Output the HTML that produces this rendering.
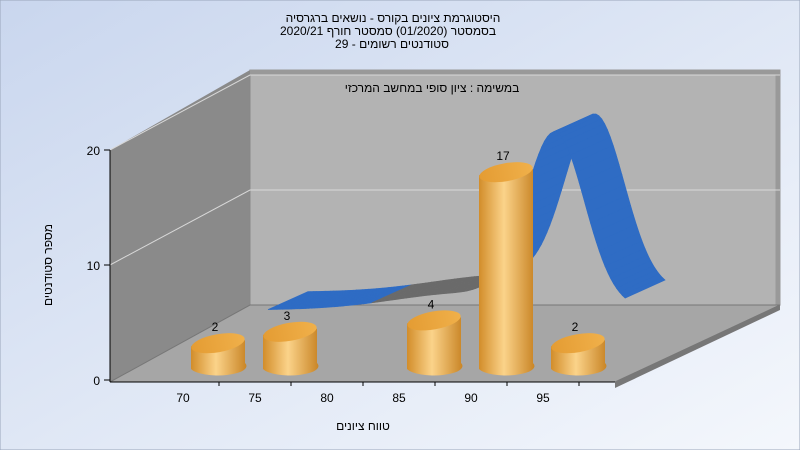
<!DOCTYPE html>
<html><head><meta charset="utf-8"><style>
body{margin:0;width:800px;height:450px;overflow:hidden;font-family:"Liberation Sans",sans-serif}
svg{display:block}
text{font-family:"Liberation Sans","Noto Sans CJK JP",sans-serif}
</style></head><body>
<svg id="chart" width="800" height="450" viewBox="0 0 800 450">
<defs>
<linearGradient id="bg" x1="0" y1="0" x2="1" y2="1"><stop offset="0" stop-color="#c9d6ee"/><stop offset="0.5" stop-color="#dfe7f5"/><stop offset="1" stop-color="#f4f7fc"/></linearGradient>
<linearGradient id="cyl" x1="0" y1="0" x2="1" y2="0"><stop offset="0" stop-color="#d28d2a"/><stop offset="0.45" stop-color="#fbd38a"/><stop offset="1" stop-color="#c98526"/></linearGradient>
<linearGradient id="cyltop" x1="0" y1="0" x2="1" y2="0"><stop offset="0" stop-color="#e49c33"/><stop offset="1" stop-color="#f0b04a"/></linearGradient>
</defs>
<rect width="800" height="450" fill="url(#bg)" stroke="#9aa6bb"/>
<g font-size="12" fill="#000" text-anchor="middle">
<text x="393" y="22">היסטוגרמת ציונים בקורס - נושאים ברגרסיה</text>
<text x="388" y="35">בסמסטר  (01/2020)  סמסטר חורף 2020/21</text>
<text x="392" y="48">סטודנטים רשומים - 29</text>
</g>
<polygon points="110,150 250,70 250,305 110,382" fill="#8a8a8a"/>
<polygon points="250,70 780,70 780,305 250,305" fill="#b3b3b3" stroke="#888" stroke-width="1"/>
<polyline points="250,72 778,72 778,305" fill="none" stroke="#999" stroke-width="5"/>
<polygon points="110,382 250,305 780,305 615,382" fill="#a6a6a6" stroke="#777"/>
<polygon points="615,382 780,305 780,310 615,388" fill="#777"/>
<g id="grid"></g>
<g id="axes"></g>
<g id="curve"></g>
<g id="bars"></g>
<text x="432" y="92" font-size="12" text-anchor="middle">במשימה : ציון סופי במחשב המרכזי</text>
<text x="363" y="430" font-size="12" text-anchor="middle">טווח ציונים</text>
<text x="0" y="0" font-size="12" text-anchor="middle" transform="translate(52,265) rotate(-90)">מספר סטודנטים</text>
</svg>
<script>
const binStarts=[70,75,80,85,90,95];
const counts=[2,3,0,4,17,2];
const yTicks=[0,10,20];
const xTickLabels=["70","75","80","85","90","95"];
const NS="http://www.w3.org/2000/svg";
function mk(t,a,p){const e=document.createElementNS(NS,t);for(const k in a)e.setAttribute(k,a[k]);p.appendChild(e);return e;}
const yAxis=v=>380-v*11.5;
const yBack=v=>305-v*11.5;
const xLabel=g=>183+(g-70)*14.4;
const xBar=g=>218+(g-70)*14.4;
const bars=document.getElementById('bars'),grid=document.getElementById('grid'),axes=document.getElementById('axes'),curve=document.getElementById('curve');
yTicks.forEach(v=>{
 if(v>0){
 const l=mk('polyline',{points:`110,${yAxis(v)} 250,${yBack(v)} 780,${yBack(v)}`,fill:'none',stroke:'#d8d8d8','stroke-width':1},grid);
 
 }
 const t=mk('text',{x:100,y:yAxis(v)+5,'font-size':12,'text-anchor':'end'},axes);t.textContent=v;
 
 
 mk('line',{x1:104,x2:110,y1:yAxis(v),y2:yAxis(v),stroke:'#000'},axes);
});
mk('line',{x1:110,y1:150,x2:110,y2:382,stroke:'#000'},axes);
mk('line',{x1:110,y1:382,x2:615,y2:382,stroke:'#000'},axes);
xTickLabels.forEach((s,i)=>{
 const x=xLabel(+s);
 const t=mk('text',{x:x,y:402,'font-size':12,'text-anchor':'middle'},axes);t.textContent=s;
 
 
 mk('line',{x1:x+36,x2:x+36,y1:382,y2:386,stroke:'#000'},axes);
});
let n=0,s=0;counts.forEach((c,i)=>{n+=c;s+=c*(binStarts[i]+2.5);});
const mean=s/n;let v2=0;counts.forEach((c,i)=>{v2+=c*Math.pow(binStarts[i]+2.5-mean,2);});
const sd=Math.sqrt(v2/n);
const peak=Math.max(...counts);
const cx=g=>xBar(g)+62;
const gFromX=x=>(x-62-218)/14.4+70;
const pts=[];
for(let g=gFromX(268);g<=gFromX(626);g+=0.2){
 const d=peak*1.05*Math.exp(-0.5*Math.pow((g-mean)/(sd*0.3),2))+1.8*Math.exp(-0.5*Math.pow((g-mean+6)/(sd*0.75),2));
 pts.push([cx(g),310-d*9.5]);
}
for(let i=0;i<pts.length-1;i++){
 const [x1,y1]=pts[i],[x2,y2]=pts[i+1];
 const col=(x1>370&&x1<485)?'#6b6b6b':'#2f6cc4';
 const q=mk('polygon',{points:`${x1},${y1} ${x2},${y2} ${x2+40},${y2-18} ${x1+40},${y1-18}`,fill:col,stroke:col,'stroke-width':0.6},curve);
 
 
}
counts.forEach((c,i)=>{
 if(!c)return;
 const x=xBar(binStarts[i]),w=54,base=366,top=base-c*11.4;
 const g=mk('g',{},bars);
 
 
 const r=w/2,ry=9;
 mk('path',{d:`M${x-r},${top+3} L${x-r},${base+3} A${r},${ry} 0 0 0 ${x+r},${base-3} L${x+r},${top-3} Z`,fill:'url(#cyl)'},g);
 mk('ellipse',{cx:x,cy:top,rx:r,ry:ry,fill:'url(#cyltop)',transform:`rotate(-10 ${x} ${top})`},g);
 const t=mk('text',{x:x-3,y:top-12,'font-size':12,'text-anchor':'middle'},g);t.textContent=c;
 
 
});
</script>
</body></html>
